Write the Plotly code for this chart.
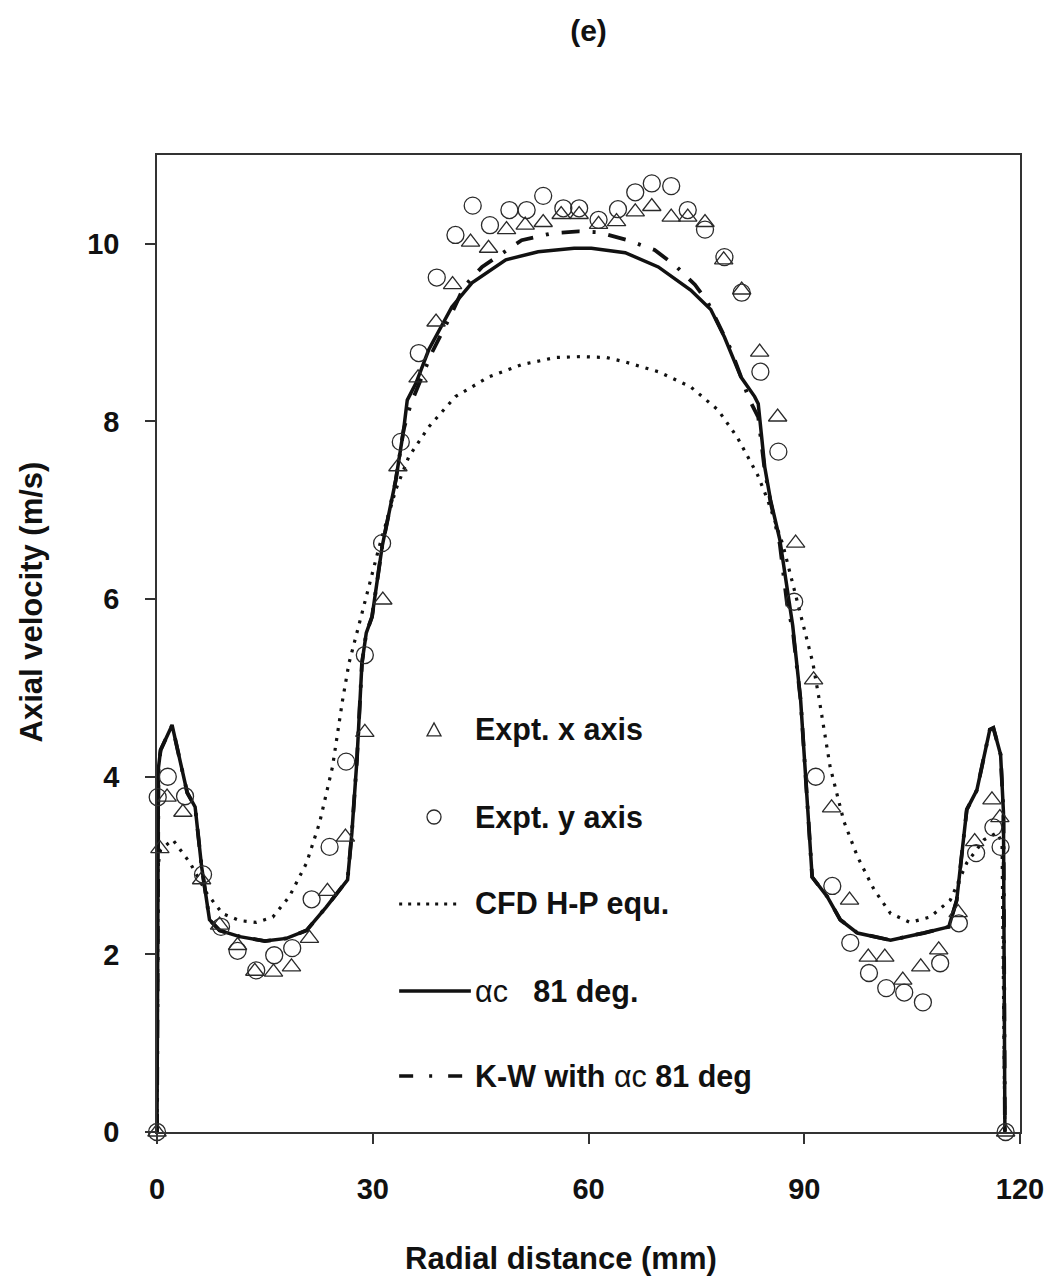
import plotly.graph_objects as go

# ---- measured profiles: radial distance (mm) vs axial velocity (m/s) ----
x_expt_x = [0, 0.4, 1.4, 3.6, 6.2, 8.7, 11.2, 13.6, 16.2, 18.7, 21.2, 23.7, 26.2, 28.9,
            31.4, 33.5, 36.3, 38.8, 41.1, 43.6, 46.1, 48.6, 51.2, 53.7, 56.2, 58.7, 61.4,
            63.9, 66.5, 68.8, 71.5, 73.8, 76.2, 78.8, 81.3, 83.8, 86.3, 88.8, 91.3, 93.8,
            96.3, 98.9, 101.2, 103.7, 106.2, 108.7, 111.4, 113.7, 116.1, 117.2, 118.0]
v_expt_x = [0, 3.19, 3.77, 3.60, 2.84, 2.33, 2.10, 1.81, 1.80, 1.86, 2.18, 2.71, 3.32, 4.50,
            5.99, 7.49, 8.49, 9.12, 9.54, 10.02, 9.95, 10.16, 10.21, 10.24, 10.33, 10.33, 10.22,
            10.25, 10.36, 10.42, 10.30, 10.30, 10.24, 9.82, 9.48, 8.78, 8.05, 6.63, 5.09, 3.65,
            2.61, 1.97, 1.97, 1.71, 1.86, 2.05, 2.47, 3.27, 3.74, 3.54, 0]

x_expt_y = [0, 0.1, 1.5, 3.9, 6.4, 8.9, 11.2, 13.8, 16.3, 18.8, 21.5, 24.0, 26.3, 28.9,
            31.3, 33.9, 36.4, 38.9, 41.5, 43.9, 46.3, 49.0, 51.4, 53.7, 56.5, 58.7, 61.4,
            64.1, 66.5, 68.8, 71.5, 73.8, 76.2, 78.9, 81.3, 83.9, 86.4, 88.6, 91.6, 93.9,
            96.4, 99.0, 101.4, 103.9, 106.5, 108.9, 111.5, 113.9, 116.3, 117.3, 118.0]
v_expt_y = [0, 3.77, 4.00, 3.78, 2.90, 2.31, 2.04, 1.82, 1.99, 2.07, 2.62, 3.21, 4.17, 5.37,
            6.63, 7.77, 8.77, 9.62, 10.10, 10.43, 10.21, 10.38, 10.38, 10.54, 10.40, 10.40, 10.27,
            10.39, 10.58, 10.68, 10.65, 10.38, 10.16, 9.85, 9.45, 8.56, 7.66, 5.97, 4.00, 2.77,
            2.13, 1.79, 1.62, 1.57, 1.46, 1.90, 2.35, 3.14, 3.43, 3.21, 0]

# ---- CFD with Hinze-Pinney equation ----
x_cfd_hp = [0, 0.15, 0.5, 2.2, 4.6, 6.9, 9.1, 11.5, 13.8, 16.1, 18.4, 20.8, 22.6, 24.4,
            25.8, 26.7, 28.5, 30.9, 33.2, 35.0, 37.8, 41.5, 46.1, 50.7, 55.4, 59.0, 62.5,
            65.1, 69.7, 74.2, 78.0, 80.7, 83.5, 84.9, 87.0, 89.4, 91.2, 92.1, 93.6, 95.5,
            97.4, 99.7, 102.0, 104.7, 107.5, 110.3, 112.6, 115.0, 116.8, 117.5, 117.9]
v_cfd_hp = [0, 3.00, 3.18, 3.29, 3.03, 2.69, 2.46, 2.38, 2.36, 2.42, 2.65, 3.03, 3.48, 4.11,
            4.86, 5.28, 5.84, 6.59, 7.23, 7.60, 7.94, 8.28, 8.50, 8.64, 8.72, 8.73, 8.72,
            8.67, 8.56, 8.39, 8.13, 7.82, 7.40, 7.12, 6.62, 5.84, 5.28, 4.86, 4.11, 3.50,
            3.10, 2.73, 2.46, 2.36, 2.42, 2.61, 3.03, 3.29, 3.37, 3.26, 0]

# ---- CFD with alpha_c = 81 deg ----
x_ac81 = [0, 0.2, 0.5, 2.1, 4.2, 5.3, 6.2, 7.3, 8.7, 11.5, 15.0, 18.0, 20.8, 23.5, 26.5,
          27.1, 27.8, 28.5, 29.1, 29.9, 31.3, 33.2, 34.3, 34.8, 36.0, 37.8, 41.0, 43.8,
          48.5, 53.0, 58.0, 60.4, 65.1, 69.7, 74.2, 77.0, 78.9, 81.2, 83.1, 83.6, 84.5,
          85.3, 86.6, 87.8, 88.4, 89.5, 90.4, 91.1, 93.2, 95.0, 97.4, 102.0, 106.6, 110.1,
          111.2, 112.6, 114.0, 115.8, 116.3, 117.3, 117.7, 117.9]
v_ac81 = [0, 4.10, 4.30, 4.58, 3.82, 3.66, 2.99, 2.39, 2.27, 2.20, 2.15, 2.18, 2.27, 2.53, 2.84,
          3.37, 4.19, 5.28, 5.62, 5.80, 6.59, 7.34, 7.91, 8.24, 8.43, 8.81, 9.29, 9.56,
          9.82, 9.91, 9.95, 9.95, 9.90, 9.74, 9.48, 9.26, 8.95, 8.50, 8.28, 8.20, 7.49,
          7.12, 6.67, 6.01, 5.70, 4.86, 3.74, 2.87, 2.65, 2.39, 2.24, 2.16, 2.24, 2.31,
          2.61, 3.63, 3.85, 4.53, 4.55, 4.25, 3.60, 0]

# ---- CFD with Kim-Wilson correlation, alpha_c = 81 deg ----
x_kw = [0, 0.2, 0.5, 2.1, 4.2, 5.3, 6.2, 7.3, 8.7, 11.5, 15.0, 18.0, 20.8, 23.5, 26.5,
        27.1, 27.8, 28.5, 29.1, 29.9, 31.3, 33.2, 34.3, 35.3, 38.2, 41.0, 42.7, 45.2,
        50.7, 55.0, 58.6, 61.4, 65.5, 69.2, 72.0, 74.8, 76.6, 79.8, 82.4, 83.6, 84.5,
        85.3, 86.6, 87.6, 88.4, 89.5, 90.4, 91.1, 93.2, 95.0, 97.4, 102.0, 106.6, 110.1,
        111.2, 112.6, 114.0, 115.8, 116.3, 117.3, 117.7, 117.9]
v_kw = [0, 4.10, 4.30, 4.58, 3.82, 3.66, 2.99, 2.39, 2.27, 2.20, 2.15, 2.18, 2.27, 2.53, 2.84,
        3.37, 4.19, 5.28, 5.62, 5.80, 6.59, 7.34, 7.91, 8.20, 8.77, 9.22, 9.52, 9.74,
        10.04, 10.12, 10.14, 10.13, 10.04, 9.93, 9.76, 9.54, 9.34, 8.81, 8.24, 8.05, 7.45,
        7.10, 6.62, 5.95, 5.65, 4.86, 3.74, 2.87, 2.65, 2.39, 2.24, 2.16, 2.24, 2.31,
        2.61, 3.63, 3.85, 4.53, 4.55, 4.25, 3.60, 0]

x_ticks = [0, 30, 60, 90, 120]
y_ticks = [0, 2, 4, 6, 8, 10]

FONT = "Liberation Sans, Arial, sans-serif"
INK = "#111111"

fig = go.Figure()

fig.add_trace(go.Scatter(x=x_cfd_hp, y=v_cfd_hp, mode="lines", name="CFD H-P equ.",
                         line=dict(color=INK, width=3.2, dash="3px,7px")))
fig.add_trace(go.Scatter(x=x_kw, y=v_kw, mode="lines", name="K-W with αc 81 deg",
                         line=dict(color=INK, width=3.8, dash="18px,13px,3px,13px")))
fig.add_trace(go.Scatter(x=x_ac81, y=v_ac81, mode="lines", name="αc 81 deg.",
                         line=dict(color=INK, width=3.5)))
fig.add_trace(go.Scatter(x=x_expt_x, y=v_expt_x, mode="markers", name="Expt. x axis",
                         cliponaxis=False,
                         marker=dict(symbol="triangle-up-open", size=16, color="#2a2a2a",
                                     line=dict(width=1.3, color="#2a2a2a"))))
fig.add_trace(go.Scatter(x=x_expt_y, y=v_expt_y, mode="markers", name="Expt. y axis",
                         cliponaxis=False,
                         marker=dict(symbol="circle-open", size=17, color="#2a2a2a",
                                     line=dict(width=1.3, color="#2a2a2a"))))

# ---- hand-built legend inside the plot area ----
rows = [0.4115, 0.3224, 0.2334, 0.1443, 0.0573]
line_x0, line_x1 = 0.2806, 0.3637
sym_x = 0.3210
text_x = 0.3660
labels = ["<b>Expt. x axis</b>", "<b>Expt. y axis</b>", "<b>CFD H-P equ.</b>",
          "αc   <b>81 deg.</b>", "<b>K-W with </b>αc<b> 81 deg</b>"]

shapes = [
    dict(type="path", xref="paper", yref="paper", xsizemode="pixel", ysizemode="pixel",
         xanchor=sym_x, yanchor=rows[0], path="M -7,-6 L 7,-6 L 0,7 Z",
         line=dict(color="#2a2a2a", width=1.3)),
    dict(type="circle", xref="paper", yref="paper", xsizemode="pixel", ysizemode="pixel",
         xanchor=sym_x, yanchor=rows[1], x0=-7, x1=7, y0=-7, y1=7,
         line=dict(color="#2a2a2a", width=1.3)),
    dict(type="line", xref="paper", yref="paper", x0=line_x0, x1=line_x1 - 0.012,
         y0=rows[2], y1=rows[2], line=dict(color=INK, width=3, dash="3px,6px")),
    dict(type="line", xref="paper", yref="paper", x0=line_x0, x1=line_x1,
         y0=rows[3], y1=rows[3], line=dict(color=INK, width=3.5)),
    dict(type="line", xref="paper", yref="paper", x0=line_x0, x1=line_x1,
         y0=rows[4], y1=rows[4], line=dict(color=INK, width=3.5, dash="14px,16px,3px,16px")),
]

annotations = []
for yy, txt in zip(rows, labels):
    annotations.append(dict(x=text_x, y=yy, xref="paper", yref="paper", text=txt,
                            showarrow=False, xanchor="left", yanchor="middle",
                            font=dict(family=FONT, size=30.5, color=INK)))

annotations.append(dict(x=0.4677, y=-0.129, xref="paper", yref="paper",
                        text="<b>Radial distance (mm)</b>", showarrow=False,
                        xanchor="center", yanchor="middle",
                        font=dict(family=FONT, size=31, color=INK)))
annotations.append(dict(x=-0.1443, y=0.5425, xref="paper", yref="paper",
                        text="<b>Axial velocity (m/s)</b>", showarrow=False, textangle=-90,
                        xanchor="center", yanchor="middle",
                        font=dict(family=FONT, size=31, color=INK)))

fig.update_layout(
    width=1056, height=1280,
    margin=dict(l=157, r=33, t=155, b=148),
    paper_bgcolor="white", plot_bgcolor="white",
    showlegend=False,
    title=dict(text="<b>(e)</b>", x=0.5, xref="paper", xanchor="center",
               y=1 - 30 / 1280, yanchor="middle",
               font=dict(family=FONT, size=30, color=INK)),
    shapes=shapes,
    annotations=annotations,
    xaxis=dict(range=[0, 120], tickvals=x_ticks, ticktext=[f"<b>{v}</b>" for v in x_ticks],
               ticks="outside", ticklen=10, tickwidth=1.5, tickcolor="#333",
               showgrid=False, zeroline=False, showline=True, mirror=True,
               linecolor="#333", linewidth=1.5, ticklabelstandoff=20,
               tickfont=dict(family=FONT, size=29, color=INK)),
    yaxis=dict(range=[0, 11], tickvals=y_ticks, ticktext=[f"<b>{v}</b>" for v in y_ticks],
               ticks="outside", ticklen=10, tickwidth=1.5, tickcolor="#333",
               showgrid=False, zeroline=False, showline=True, mirror=True,
               linecolor="#333", linewidth=1.5, ticklabelstandoff=20,
               tickfont=dict(family=FONT, size=29, color=INK)),
)

fig.write_html("out.html")
